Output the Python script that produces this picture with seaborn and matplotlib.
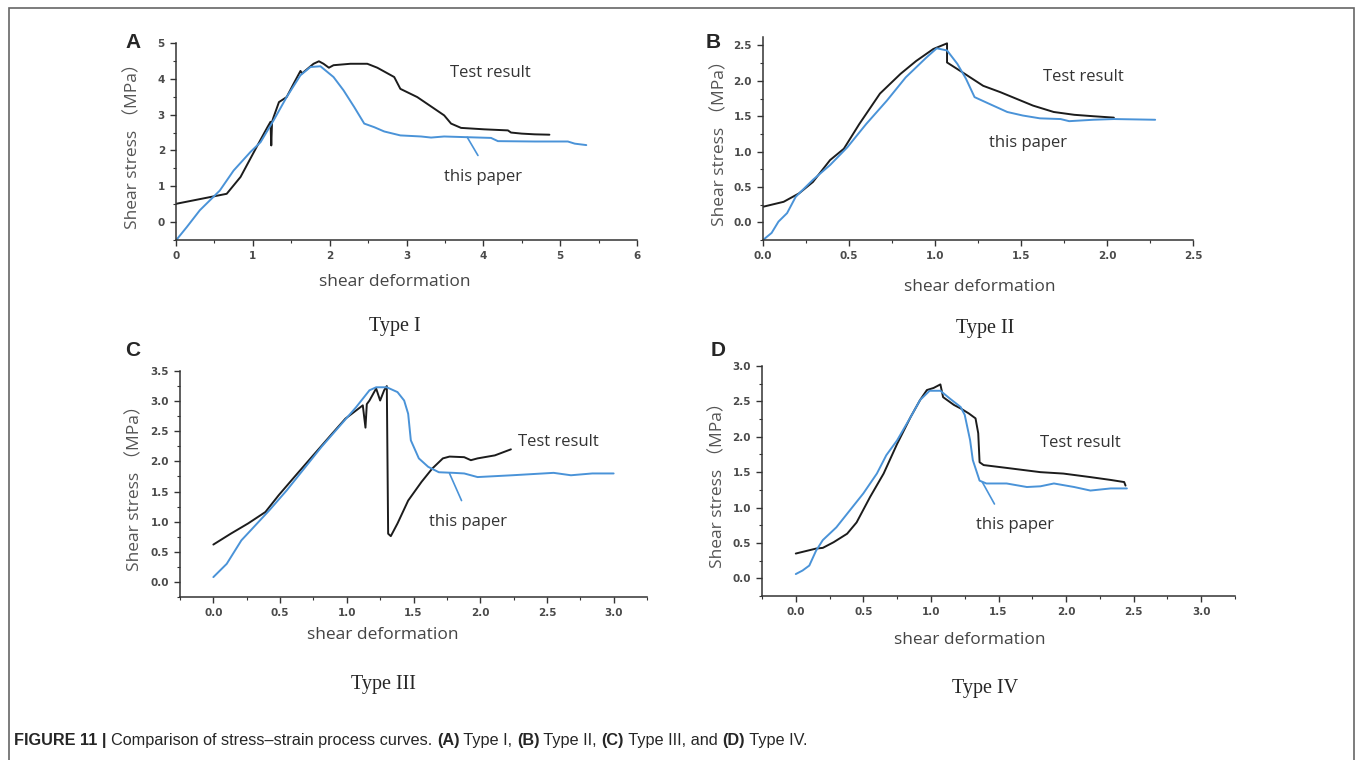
import numpy as np
import pandas as pd
import seaborn as sns
import matplotlib.pyplot as plt
from matplotlib import font_manager
from matplotlib.patches import Rectangle
from matplotlib.ticker import MultipleLocator


# ---- data ----
# (A) Type I
a_test_x = [0.0, 0.66, 0.84, 1.05, 1.19, 1.23, 1.24, 1.25, 1.27, 1.34, 1.44, 1.53, 1.62, 1.64, 1.79, 1.86, 1.92,
            1.99, 2.05, 2.27, 2.49, 2.62, 2.84, 2.92, 3.14, 3.36, 3.49, 3.58, 3.71, 4.01, 4.32, 4.36, 4.50, 4.67, 4.86]
a_test_y = [0.51, 0.79, 1.26, 2.10, 2.65, 2.80, 2.14, 2.80, 2.93, 3.35, 3.49, 3.86, 4.22, 4.15, 4.42, 4.49, 4.42,
            4.31, 4.38, 4.42, 4.42, 4.31, 4.05, 3.72, 3.49, 3.17, 2.98, 2.75, 2.63, 2.59, 2.56, 2.50, 2.47, 2.45, 2.44]
a_model_x = [0.0, 0.14, 0.31, 0.57, 0.75, 0.97, 1.10, 1.27, 1.44, 1.62, 1.75, 1.88, 2.05, 2.18, 2.32, 2.45, 2.58,
             2.71, 2.92, 3.19, 3.32, 3.49, 3.79, 4.10, 4.19, 4.67, 5.10, 5.19, 5.34]
a_model_y = [-0.51, -0.14, 0.33, 0.88, 1.44, 1.96, 2.23, 2.84, 3.49, 4.10, 4.33, 4.35, 4.05, 3.68, 3.21, 2.75, 2.65,
             2.53, 2.42, 2.39, 2.36, 2.39, 2.37, 2.35, 2.26, 2.25, 2.25, 2.19, 2.15]
a_leader_x = [3.79, 3.93]
a_leader_y = [2.37, 1.86]

# (B) Type II
b_test_x = [0.0, 0.12, 0.21, 0.29, 0.39, 0.47, 0.56, 0.68, 0.80, 0.89, 0.99, 1.07, 1.07, 1.16, 1.28, 1.38, 1.48,
            1.57, 1.69, 1.81, 1.92, 2.04]
b_test_y = [0.22, 0.29, 0.41, 0.57, 0.88, 1.04, 1.39, 1.82, 2.10, 2.28, 2.45, 2.53, 2.26, 2.12, 1.93, 1.84, 1.74,
            1.65, 1.56, 1.52, 1.50, 1.48]
b_model_x = [0.0, 0.05, 0.09, 0.14, 0.19, 0.29, 0.39, 0.49, 0.60, 0.72, 0.83, 0.95, 1.01, 1.07, 1.13, 1.18, 1.23,
             1.32, 1.42, 1.51, 1.61, 1.73, 1.78, 1.92, 2.04, 2.28]
b_model_y = [-0.25, -0.15, 0.01, 0.13, 0.36, 0.60, 0.81, 1.06, 1.39, 1.72, 2.05, 2.33, 2.46, 2.43, 2.24, 2.03, 1.77,
             1.67, 1.56, 1.51, 1.47, 1.46, 1.43, 1.45, 1.46, 1.45]

# (C) Type III
c_test_x = [0.0, 0.13, 0.26, 0.39, 0.49, 0.63, 0.76, 0.89, 0.99, 1.12, 1.14, 1.15, 1.17, 1.22, 1.25, 1.28, 1.30,
            1.31, 1.33, 1.38, 1.46, 1.56, 1.64, 1.72, 1.77, 1.88, 1.93, 1.98, 2.11, 2.23]
c_test_y = [0.62, 0.80, 0.97, 1.16, 1.44, 1.80, 2.13, 2.46, 2.71, 2.93, 2.56, 2.95, 3.01, 3.21, 3.01, 3.18, 3.25,
            0.80, 0.76, 0.97, 1.35, 1.66, 1.88, 2.05, 2.08, 2.07, 2.02, 2.05, 2.10, 2.20]
c_model_x = [0.0, 0.10, 0.21, 0.29, 0.42, 0.55, 0.68, 0.81, 0.94, 1.07, 1.17, 1.22, 1.30, 1.38, 1.43, 1.46, 1.48,
             1.54, 1.61, 1.69, 1.80, 1.88, 1.98, 2.24, 2.55, 2.68, 2.84, 3.0]
c_model_y = [0.08, 0.30, 0.69, 0.88, 1.19, 1.52, 1.88, 2.24, 2.57, 2.90, 3.18, 3.23, 3.23, 3.15, 3.01, 2.79, 2.35,
             2.05, 1.91, 1.82, 1.81, 1.80, 1.74, 1.77, 1.81, 1.77, 1.80, 1.80]
c_leader_x = [1.77, 1.86]
c_leader_y = [1.80, 1.35]

# (D) Type IV
d_test_x = [0.0, 0.15, 0.20, 0.28, 0.38, 0.45, 0.55, 0.65, 0.75, 0.85, 0.92, 0.97, 1.02, 1.07, 1.09, 1.17, 1.22,
            1.28, 1.33, 1.35, 1.36, 1.39, 1.56, 1.81, 1.98, 2.18, 2.33, 2.43, 2.44]
d_test_y = [0.35, 0.42, 0.43, 0.51, 0.63, 0.79, 1.15, 1.48, 1.90, 2.28, 2.52, 2.66, 2.69, 2.74, 2.56, 2.45, 2.40,
            2.33, 2.26, 2.05, 1.64, 1.60, 1.56, 1.50, 1.48, 1.43, 1.39, 1.36, 1.31]
d_model_x = [0.0, 0.05, 0.10, 0.15, 0.20, 0.30, 0.40, 0.50, 0.60, 0.67, 0.75, 0.85, 0.92, 0.99, 1.07, 1.14, 1.22,
             1.25, 1.29, 1.31, 1.36, 1.41, 1.56, 1.71, 1.81, 1.91, 2.06, 2.18, 2.33, 2.45]
d_model_y = [0.06, 0.11, 0.18, 0.39, 0.54, 0.72, 0.96, 1.20, 1.48, 1.74, 1.95, 2.28, 2.52, 2.65, 2.65, 2.54, 2.42,
             2.31, 1.95, 1.67, 1.38, 1.34, 1.34, 1.29, 1.30, 1.34, 1.29, 1.24, 1.27, 1.27]
d_leader_x = [1.38, 1.47]
d_leader_y = [1.36, 1.05]

panel_letters = ["A", "B", "C", "D"]
panel_titles = ["Type I", "Type II", "Type III", "Type IV"]
series_names = ["Test result", "this paper"]
caption_parts = [("FIGURE 11 | ", True), ("Comparison of stress\u2013strain process curves. ", False),
                 ("(A)", True), (" Type I, ", False), ("(B)", True), (" Type II, ", False),
                 ("(C)", True), (" Type III, and ", False), ("(D)", True), (" Type IV.", False)]

# ---- style ----
W, H = 1357, 760
sns.set_theme(style="ticks")
avail = {f.name for f in font_manager.fontManager.ttflist}
label_font = ["Open Sans", "Noto Sans CJK SC", "DejaVu Sans"]
cap_font = "Liberation Sans Narrow" if "Liberation Sans Narrow" in avail else "Liberation Sans"
plt.rcParams["font.family"] = ["DejaVu Sans", "Noto Sans CJK SC"]

BLACK = "#1c1c1c"
BLUE = "#4a93d8"
GREY = "#555555"


def fx(px):
    return px / W


def fy(py):
    return 1 - py / H


fig = plt.figure(figsize=(W / 100, H / 100), dpi=100)

# panel layout (pixel box: left, top, right, bottom), limits, ticks
panels = [
    dict(box=(176, 43, 637, 240), xlim=(0, 6), ylim=(-0.5, 5), xmaj=1, xmin=0.5, ymaj=1, ymin=0.5, fmt="%d",
         test=(a_test_x, a_test_y), model=(a_model_x, a_model_y), leader=(a_leader_x, a_leader_y),
         letter=(133, 43), test_lbl=(490, 73), model_lbl=(483, 177), xlab=(395, 282), title=(395, 326), ylab=133),
    dict(box=(763, 37, 1193, 240), xlim=(0, 2.5), ylim=(-0.25, 2.62), xmaj=0.5, xmin=0.25, ymaj=0.5, ymin=0.25,
         fmt="%.1f", test=(b_test_x, b_test_y), model=(b_model_x, b_model_y), leader=None,
         letter=(713, 42), test_lbl=(1083, 77), model_lbl=(1028, 143), xlab=(980, 287), title=(985, 328), ylab=720),
    dict(box=(180, 371, 647, 597), xlim=(-0.25, 3.25), ylim=(-0.25, 3.5), xmaj=0.5, xmin=0.25, ymaj=0.5,
         ymin=0.25, fmt="%.1f", test=(c_test_x, c_test_y), model=(c_model_x, c_model_y),
         leader=(c_leader_x, c_leader_y),
         letter=(133, 350), test_lbl=(558, 442), model_lbl=(468, 522), xlab=(383, 635), title=(383, 685), ylab=135),
    dict(box=(762, 366, 1235, 596), xlim=(-0.25, 3.25), ylim=(-0.25, 3.0), xmaj=0.5, xmin=0.25, ymaj=0.5,
         ymin=0.25, fmt="%.1f", test=(d_test_x, d_test_y), model=(d_model_x, d_model_y),
         leader=(d_leader_x, d_leader_y),
         letter=(718, 350), test_lbl=(1080, 443), model_lbl=(1015, 525), xlab=(970, 640), title=(985, 688), ylab=718),
]

for i, p in enumerate(panels):
    l, t, r, b = p["box"]
    ax = fig.add_axes([fx(l), fy(b), (r - l) / W, (b - t) / H])
    df = pd.concat([
        pd.DataFrame({"x": p["test"][0], "y": p["test"][1], "series": series_names[0]}),
        pd.DataFrame({"x": p["model"][0], "y": p["model"][1], "series": series_names[1]}),
    ])
    sns.lineplot(data=df, x="x", y="y", hue="series", palette=[BLACK, BLUE], sort=False, estimator=None,
                 linewidth=1.4, legend=False, ax=ax)
    if p["leader"] is not None:
        ax.plot(p["leader"][0], p["leader"][1], color=BLUE, lw=1.2)
    ax.set_xlim(*p["xlim"])
    ax.set_ylim(*p["ylim"])
    ax.set_xlabel("")
    ax.set_ylabel("")
    sns.despine(ax=ax)
    for s in ("left", "bottom"):
        ax.spines[s].set_color("#333333")
        ax.spines[s].set_linewidth(1.1)
    ax.xaxis.set_major_locator(MultipleLocator(p["xmaj"]))
    ax.xaxis.set_minor_locator(MultipleLocator(p["xmin"]))
    ax.yaxis.set_major_locator(MultipleLocator(p["ymaj"]))
    ax.yaxis.set_minor_locator(MultipleLocator(p["ymin"]))
    ax.xaxis.set_major_formatter(plt.FormatStrFormatter(p["fmt"]))
    ax.yaxis.set_major_formatter(plt.FormatStrFormatter(p["fmt"]))
    # no label on the axis floor or at negative x
    ax.set_yticks([v for v in ax.get_yticks() if p["ylim"][0] < v <= p["ylim"][1] + 1e-9])
    ax.set_xticks([v for v in ax.get_xticks() if 0 - 1e-9 <= v <= p["xlim"][1] + 1e-9])
    ax.tick_params(which="major", direction="out", length=4, width=1, color="#333333",
                   labelsize=7.5, labelcolor="#4a4a4a", pad=4)
    ax.tick_params(which="minor", direction="out", length=2, width=0.8, color="#333333")
    for lab in ax.get_xticklabels() + ax.get_yticklabels():
        lab.set_fontweight("bold")
    ax.patch.set_alpha(0)

    cx, cy = p["letter"]
    fig.text(fx(cx), fy(cy), panel_letters[i], fontsize=15, fontweight="bold", family="Liberation Sans",
             ha="center", va="center")
    fig.text(fx(p["test_lbl"][0]), fy(p["test_lbl"][1]), series_names[0], fontsize=12, family=label_font,
             color="#333333", ha="center", va="center")
    fig.text(fx(p["model_lbl"][0]), fy(p["model_lbl"][1]), series_names[1], fontsize=12, family=label_font,
             color="#333333", ha="center", va="center")
    fig.text(fx(p["xlab"][0]), fy(p["xlab"][1]), "shear deformation", fontsize=12.5, family=label_font,
             color="#444444", ha="center", va="center")
    fig.text(fx(p["ylab"]), fy((t + b) / 2), "Shear stress （MPa）", fontsize=12.5, family=label_font,
             color="#555555", ha="center", va="center", rotation=90)
    fig.text(fx(p["title"][0]), fy(p["title"][1]), panel_titles[i], fontsize=14.5, family="Liberation Serif",
             ha="center", va="center")

# frame around figure
fig.patches.append(Rectangle((fx(9), fy(H + 5)), (1354 - 9) / W, (H + 5 - 8) / H, transform=fig.transFigure,
                             fill=False, edgecolor="#666666", linewidth=1.2, clip_on=False))

# caption, mixed bold / regular
renderer = fig.canvas.get_renderer()
xpos = 14
for txt, bold in caption_parts:
    tt = fig.text(fx(xpos), fy(741), txt, fontsize=11.7, family=cap_font,
                  fontweight="bold" if bold else "normal", ha="left", va="center")
    xpos += tt.get_window_extent(renderer).width

fig.savefig("out.png", dpi=100)
